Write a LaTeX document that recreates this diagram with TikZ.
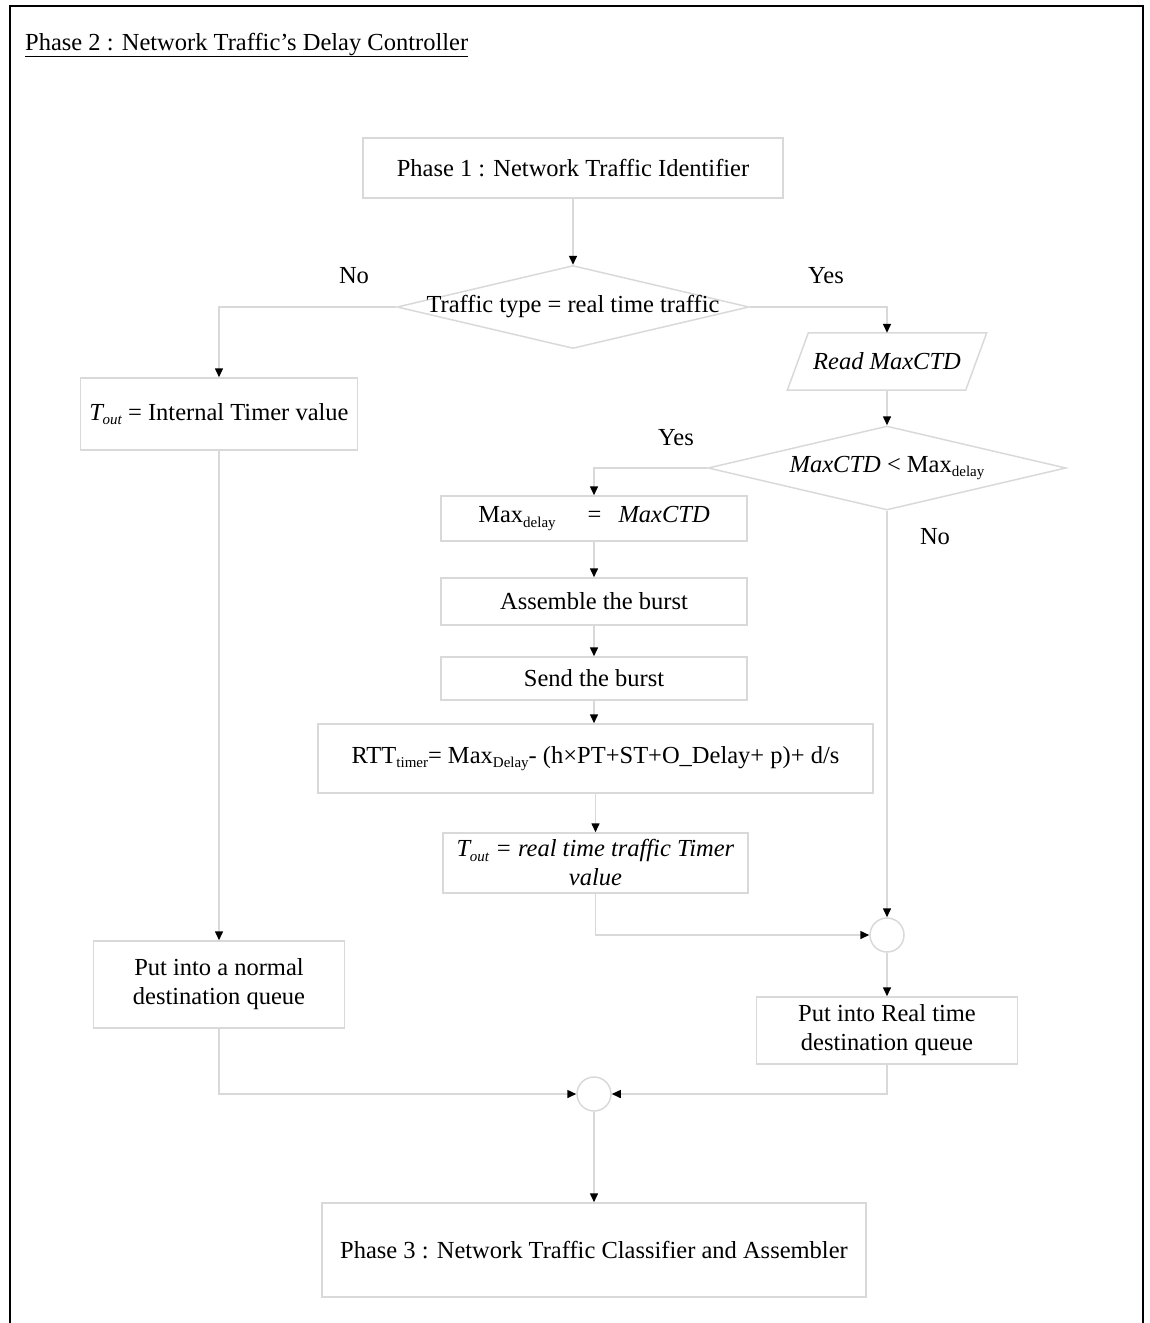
\documentclass[tikz,border=0pt]{standalone}
\usepackage{fontspec}
\setmainfont{Liberation Serif}
\usetikzlibrary{arrows.meta,shapes.geometric,calc}
\newcommand\subtx[1]{\raisebox{-0.4ex}{\fontsize{15}{15}\selectfont #1}}
\newcommand\tout{\textit{T}\kern-2pt\subtx{\textit{out}}}
\definecolor{edgegray}{HTML}{D9D9D9}
\tikzset{
  every node/.style={font=\fontsize{24.5}{29}\selectfont, inner sep=0pt},
  box/.style={draw=edgegray, line width=1.5pt, rectangle, align=center},
  dia/.style={draw=edgegray, line width=1.5pt, diamond},
  junction/.style={draw=edgegray, line width=1.5pt, circle, minimum size=34pt},
  flow/.style={draw=edgegray, line width=1.5pt,
    -{Triangle[length=9pt,width=8pt,color=black]}},
  plain/.style={draw=edgegray, line width=1.5pt},
  lbl/.style={font=\fontsize{24.5}{29}\selectfont}
}
\begin{document}
\begin{tikzpicture}[x=1pt,y=-1pt]
\useasboundingbox (0,0) rectangle (1150,1323);
% outer frame, open at the bottom
\draw[black, line width=2pt] (10,1323) -- (10,6) -- (1143,6) -- (1143,1323);
\node[anchor=base west] (title) at (25,50) {\underline{Phase 2 : Network Traffic’s Delay Controller}};

% boxes and decisions
\node[box, minimum width=420pt, minimum height=60pt] (p1) at (573,168) {Phase 1 : Network Traffic Identifier};
\node[dia, minimum width=352pt, minimum height=83pt] (d1) at (573,307) {};
\node (d1t) at (573,307) {Traffic type = real time traffic};

\node[box, minimum width=277pt, minimum height=72pt] (tint) at (219,414) {\tout{} = Internal Timer value};

\node[minimum width=199pt, minimum height=57pt] (rd) at (887,361.5) {\textit{Read MaxCTD}};
\draw[plain] ($(rd.north west)+(21,0)$) -- (rd.north east) -- ($(rd.south east)-(21,0)$) -- (rd.south west) -- cycle;

\node[dia, minimum width=358pt, minimum height=84pt] (d2) at (887,468) {};
\node (d2t) at (887,468) {\textit{MaxCTD} < Max\subtx{delay}};

\node[box, minimum width=306pt, minimum height=45pt] (mx) at (594,518.5) {Max\subtx{delay}\hspace{1.3em}=\hspace{0.7em}\textit{MaxCTD}};
\node[box, minimum width=306pt, minimum height=47pt] (as) at (594,601.5) {Assemble the burst};
\node[box, minimum width=306pt, minimum height=43pt] (sd) at (594,678.5) {Send the burst};
\node[box, minimum width=555pt, minimum height=69pt] (rtt) at (595.5,758.5) {RTT\subtx{timer}= Max\subtx{Delay}- (h×PT+ST+O\_Delay+ p)+ d/s};
\node[box, minimum width=305pt, minimum height=60pt] (trt) at (595.5,863) {\tout{} \textit{= real time traffic Timer}\\[0pt]\textit{value}};

\node[junction] (c1) at (887,935) {};
\node[box, minimum width=251pt, minimum height=87pt] (qn) at (219,984.5) {Put into a normal\\destination queue};
\node[box, minimum width=261pt, minimum height=67pt] (qrt) at (887,1030.5) {Put into Real time\\destination queue};
\node[junction] (c2) at (594,1094) {};
\node[box, minimum width=544pt, minimum height=94pt] (p3) at (594,1250) {Phase 3 : Network Traffic Classifier and Assembler};

% branch labels
\node[lbl] (no1) at (354,276) {No};
\node[lbl] (yes1) at (826,276) {Yes};
\node[lbl] (yes2) at (676,438) {Yes};
\node[lbl] (no2) at (935,537) {No};

% connectors
\draw[flow] (p1) -- (d1.north);
\draw[flow] (d1.west) -| (tint.north);
\draw[flow] (d1.east) -| (rd.north);
\draw[flow] (rd.south) -- (d2.north);
\draw[flow] (d2.west) -| (mx.north);
\draw[flow] (mx) -- (as);
\draw[flow] (as) -- (sd);
\draw[flow] (sd.south) -- (sd.south |- rtt.north);
\draw[flow] (rtt.south -| trt.north) -- (trt.north);
\draw[flow] (trt.south) |- (c1.west);
\draw[flow] (d2.south) -- (c1.north);
\draw[flow] (c1.south) -- (qrt.north);
\draw[flow] (tint.south) -- (qn.north);
\draw[flow] (qn.south) |- (c2.west);
\draw[flow] (qrt.south) |- (c2.east);
\draw[flow] (c2.south) -- (p3.north);
\end{tikzpicture}
\end{document}
